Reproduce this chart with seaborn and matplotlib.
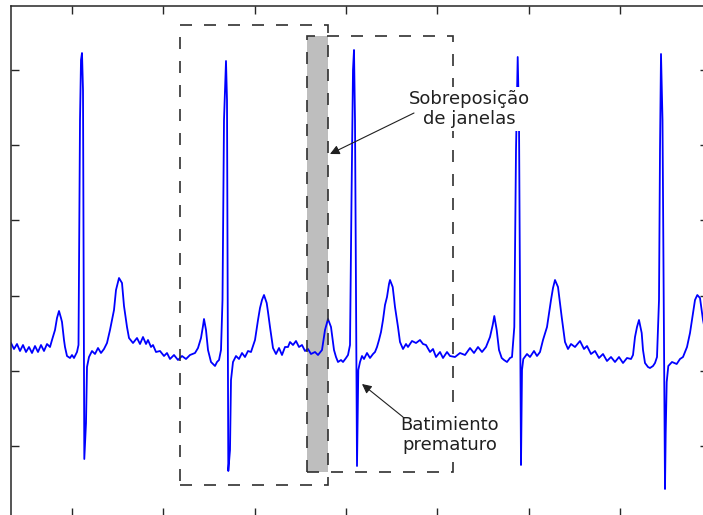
import numpy as np
import matplotlib
matplotlib.use("Agg")
import matplotlib.pyplot as plt
from matplotlib.patches import Rectangle
import seaborn as sns

# ECG trace: sample position and amplitude (ADC counts, 0 = reference level)
sample = [
    11, 14, 17, 20, 23, 26, 29, 32, 35, 38, 41, 44, 47, 50,
    52, 55, 57, 59, 61, 62, 64, 65, 67, 70, 72, 74, 77, 78.5,
    80, 81, 82, 83, 84.3, 86, 87, 89, 92, 95, 98, 101, 104,
    107, 110, 112, 114, 116, 119, 122, 124, 127, 129, 133, 137, 140, 143, 146, 148,
    151, 153, 156, 160, 164, 167, 170, 174, 178, 182, 186, 190, 195,
    198, 201, 203, 204, 206, 208, 211, 213, 215, 217, 219, 221,
    222.5, 224, 226, 227, 228.3, 230, 231, 233, 236, 239, 242, 245, 248, 251,
    255, 258, 260, 262, 264, 266.7, 268, 270, 273, 276, 279, 282, 285, 288, 290,
    293, 296, 299, 302, 305, 308, 311, 315, 318,
    322, 325, 328, 331, 334, 336, 338, 341, 343, 346, 348, 350,
    351.5, 353, 354, 355, 356, 357, 358.3, 360, 362, 364, 367, 370, 373, 375,
    377, 379, 381, 383, 385, 387, 389, 390, 392.7, 395, 398, 400, 403, 406, 408,
    412, 416, 420, 423, 426, 430, 433, 436, 440, 443, 447, 450, 455, 460, 465,
    470, 474, 478, 482, 486,
    490, 492.7, 494.3, 496.7, 499, 501.7, 504, 507, 510, 512, 514.3,
    516, 517.7, 519, 521, 522, 523.3, 527, 530, 534, 537, 540,
    543, 547, 551, 553, 555, 558, 561.7, 565, 568, 571, 575, 580, 584, 587,
    591, 595, 599, 603, 607, 611, 615, 619, 623, 627, 631,
    633, 635, 637, 639, 641.7, 643, 645, 648, 650, 653, 655, 657,
    659, 660, 661, 662.5, 665, 665.7, 666.7, 668.3, 672, 676.7, 680, 683,
    687, 690, 693, 695, 697.3, 700, 703, 706, 709,
]
amplitude = [
    28, 22, 27, 20, 26, 19, 24, 18, 25, 19, 26, 20, 27, 24,
    31, 41, 53, 60, 53, 49, 31, 24, 15, 13, 16, 13, 19, 26,
    251, 311, 318, 281, -88, -52, 4, 14, 20, 17, 23, 18, 22,
    28, 41, 51, 61, 81, 93, 88, 65, 44, 33, 28, 33, 27, 34, 27, 31,
    24, 26, 19, 20, 15, 18, 12, 16, 11, 15, 12, 16, 18,
    23, 33, 45, 52, 41, 21, 9, 7, 5, 9, 11, 21,
    71, 251, 310, 271, -100, -79, -9, 9, 15, 12, 18, 14, 20, 19,
    31, 51, 63, 71, 76, 68, 59, 44, 23, 17, 23, 16, 24, 24, 29,
    26, 30, 24, 26, 20, 22, 17, 19, 16,
    21, 41, 52, 44, 21, 14, 9, 11, 9, 13, 16, 26,
    171, 301, 321, 251, 71, -95, 1, 9, 15, 12, 18, 13, 17, 19,
    24, 31, 39, 51, 66, 74, 87, 91, 84, 64, 44, 29, 22, 27, 24,
    30, 28, 31, 27, 26, 19, 22, 14, 19, 13, 19, 15, 14, 18, 16,
    23, 18, 24, 19, 24,
    34, 46, 55, 41, 21, 13, 11, 9, 13, 14, 44,
    221, 314, 251, -94, 1, 12, 17, 14, 20, 15, 19,
    31, 44, 71, 83, 91, 84, 54, 29, 22, 27, 24, 30, 22, 25,
    17, 20, 13, 17, 10, 14, 9, 14, 8, 13, 12,
    16, 34, 44, 51, 38, 21, 8, 4, 3, 5, 8, 14,
    71, 221, 317, 251, -118, -62, -11, 5, 9, 7, 12, 14,
    24, 38, 58, 71, 76, 73, 51, 36, 29,
]

# Two analysis windows (sample start, sample end, amplitude low, amplitude high)
window_a = (180, 328, -114, 346)
window_b = (307, 453, -101, 335)

label_overlap = "Sobreposição\nde janelas"
label_beat = "Batimiento\nprematuro"

assert len(sample) == len(amplitude)

sns.set_theme(style="white")
plt.rcParams["font.family"] = ["DejaVu Sans"]

fig = plt.figure(figsize=(7.03, 5.15), dpi=100)
ax = fig.add_axes([10.7 / 703, -1.0 / 515, (708 - 10.7) / 703, (516 - 5.7) / 515])

# overlap of the two windows
ov_x0, ov_x1 = window_b[0], window_a[1]
ax.add_patch(Rectangle((ov_x0, window_b[2]), ov_x1 - ov_x0, window_b[3] - window_b[2],
                       facecolor="#bebebe", edgecolor="none", zorder=1))

sns.lineplot(x=sample, y=amplitude, sort=False, estimator=None, ax=ax,
             color="#0000ff", linewidth=1.3, zorder=2)

for (x0, x1, y0, y1) in (window_a, window_b):
    ax.add_patch(Rectangle((x0, y0), x1 - x0, y1 - y0, fill=False,
                           edgecolor="#303030", linewidth=1.2,
                           linestyle=(0, (7.2, 7.2)), zorder=3))

# labels sit on white boxes that hide whatever passes behind them
box_kw = dict(boxstyle="square,pad=0.12", facecolor="white", edgecolor="none")
ax.text(469, 262, label_overlap, ha="center", va="center", fontsize=13,
        color="#202020", linespacing=1.2, bbox=box_kw, zorder=5)
ax.text(450, -64, label_beat, ha="center", va="center", fontsize=13,
        color="#202020", linespacing=1.2, bbox=box_kw, zorder=5)

arrow_kw = dict(arrowstyle="-|>", color="#202020", lw=0.8,
                mutation_scale=14, shrinkA=0, shrinkB=0)
ax.annotate("", xy=(330, 217), xytext=(414, 258), arrowprops=arrow_kw, zorder=6)
ax.annotate("", xy=(362, -13), xytext=(403, -46), arrowprops=arrow_kw, zorder=6)

ax.set_xlim(10.7, 708)
ax.set_ylim(-145, 365.3)
ax.set_xticks(np.arange(71.7, 708, 91.4))
ax.set_yticks(np.arange(-75.3, 360, 75.3))
ax.set_xticklabels([])
ax.set_yticklabels([])
ax.set_xlabel("")
ax.set_ylabel("")
ax.tick_params(direction="in", length=5.5, width=1.0, color="#262626",
               top=True, right=True, bottom=True, left=True)
for sp in ax.spines.values():
    sp.set_visible(True)
    sp.set_color("#262626")
    sp.set_linewidth(1.1)

fig.savefig("out.png", dpi=100)
